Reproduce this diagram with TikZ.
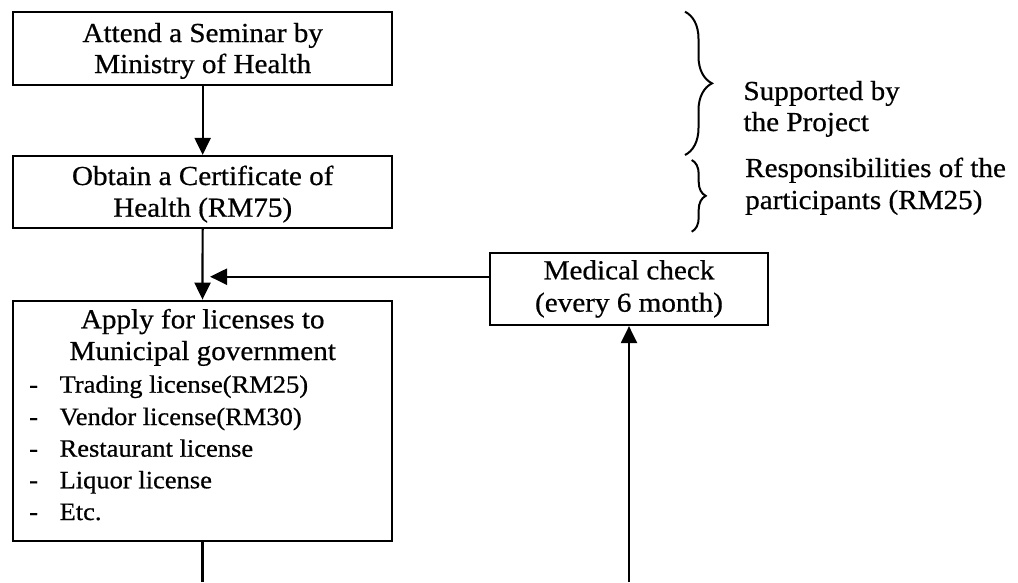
\documentclass[tikz,border=0pt]{standalone}
\usepackage{fontspec}
\setmainfont{Liberation Serif}[FakeStretch=1.06,FakeBold=0.6]
\usetikzlibrary{arrows.meta,decorations.pathreplacing}

\begin{document}
\begin{tikzpicture}[x=1pt,y=-1pt,
  box/.style={draw,line width=2.2pt,inner sep=0pt},
  flow/.style={line width=2.2pt,-{Triangle[length=17pt,width=16pt]}},
  plainline/.style={line width=2.2pt},
  txt/.style={inner sep=0pt,anchor=base,font=\fontsize{27.5}{31}\selectfont},
  sidetxt/.style={inner sep=0pt,anchor=base west,font=\fontsize{27.5}{31}\selectfont},
  itemtxt/.style={inner sep=0pt,anchor=base west,font=\fontsize{25}{32}\selectfont},
  curly/.style={line width=2pt,decorate,decoration={brace,amplitude=#1}}
]
\useasboundingbox (0,0) rectangle (1018,582);

% process boxes
\node[box,minimum width=378.7pt,minimum height=73.3pt] (seminar) at (202.65,48.35) {};
\node[box,minimum width=378.7pt,minimum height=72pt]   (cert)    at (202.65,192) {};
\node[box,minimum width=378.4pt,minimum height=240pt]  (apply)   at (202.5,420.7) {};
\node[box,minimum width=278pt,minimum height=72.3pt]   (medical) at (629,288.85) {};

% box texts
\node[txt] (seminar1) at (202.7,42)  {Attend a Seminar by};
\node[txt] (seminar2) at (202.7,73)  {Ministry of Health};
\node[txt] (cert1)    at (202.7,185) {Obtain a Certificate of};
\node[txt] (cert2)    at (202.7,216.7) {Health (RM75)};
\node[txt] (medical1) at (629,279.3) {Medical check};
\node[txt] (medical2) at (629,311.7) {(every 6 month)};
\node[txt] (apply1)   at (202.7,328.3) {Apply for licenses to};
\node[txt] (apply2)   at (202.7,360) {Municipal government};

% licence list
\foreach \y/\name/\label in {392.7/lic1/Trading license(RM25),
                             425/lic2/Vendor license(RM30),
                             456.7/lic3/Restaurant license,
                             488.3/lic4/Liquor license,
                             520/lic5/Etc.}{
  \node[itemtxt] (\name dash) at (29,\y) {-};
  \node[itemtxt] (\name) at (59.4,\y) {\label};
}

% connectors
\coordinate (join)   at (210,276.7);
\coordinate (endA)   at (202.5,582);
\coordinate (startM) at (629,582);
\draw[flow] (seminar.south) -- (cert.north);
\draw[flow] (cert.south) -- (apply.north);
\draw[flow] (medical.west |- join) -- (join);
\draw[plainline] (apply.south) -- (endA);
\draw[flow] (startM) -- (medical.south);

% braces and their notes
\draw[curly=27pt] (685,11.7) -- (685,155);
\draw[curly=14pt] (691.7,160) -- (691.7,231.7);
\node[sidetxt] (note1a) at (743.3,100) {Supported by};
\node[sidetxt] (note1b) at (743.3,131) {the Project};
\node[sidetxt] (note2a) at (745,177)   {Responsibilities of the};
\node[sidetxt] (note2b) at (745,209)   {participants (RM25)};
\end{tikzpicture}
\end{document}
